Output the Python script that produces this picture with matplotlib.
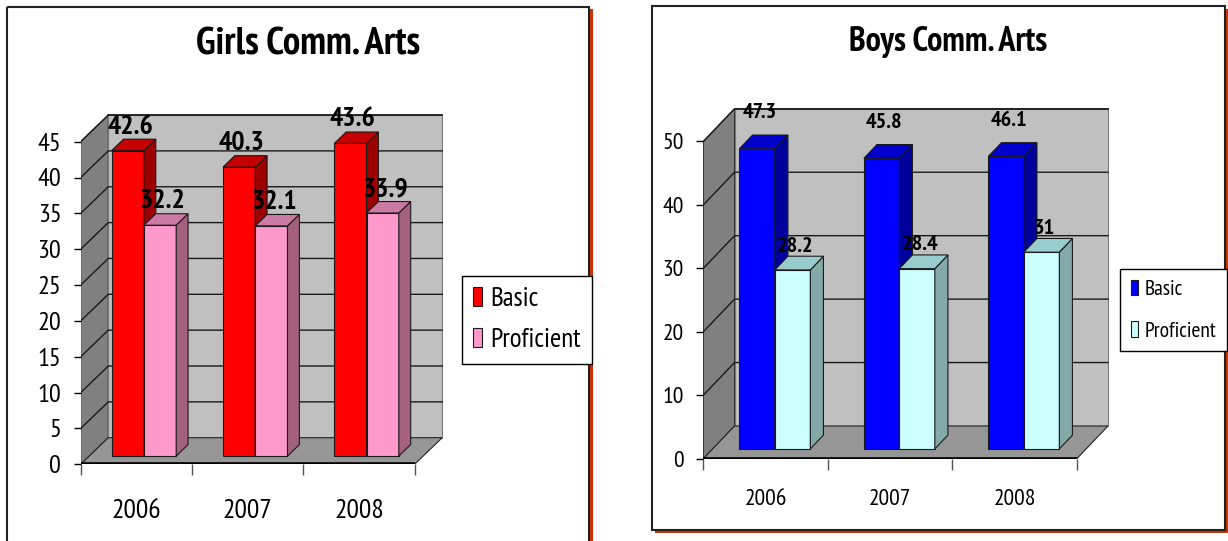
import matplotlib.pyplot as plt
from matplotlib.patches import Polygon, Rectangle
import numpy as np

W, H = 1228, 541

years = ["2006", "2007", "2008"]
series = ["Basic", "Proficient"]
girls_basic = [42.6, 40.3, 43.6]
girls_proficient = [32.2, 32.1, 33.9]
boys_basic = [47.3, 45.8, 46.1]
boys_proficient = [28.2, 28.4, 31]

plt.rcParams['font.family'] = ['PT Sans Narrow', 'Liberation Sans', 'DejaVu Sans']

# pixel layout of each 3-D plot area and look of each chart
girls_cfg = dict(
    title="Girls Comm. Arts", title_xy=(308, 45), title_size=28,
    x0=80.7, y0=464.3, px_cat=111.3, px_unit=7.17, ymax=45, step=5,
    depth=(0.248, 3.71), bar_start=0.278, bar_w=0.29, depth_at=0.31, bar_depth=0.43,
    colors=[("#FF0000", "#C40000", "#9C0000"), ("#FF99CC", "#CC7AA3", "#A3617F")],
    tick_size=19, year_size=20, year_pad=25, label_size=20, label_off=(1.75, 1.75),
    legend_box=(461.5, 276), legend_size=19.5, legend_spacing=0.62, legend_pad=0.42,
)
boys_cfg = dict(
    title="Boys Comm. Arts", title_xy=(948, 42), title_size=24.5,
    x0=703.4, y0=458.6, px_cat=124.5, px_unit=6.344, ymax=50, step=10,
    depth=(0.25, 5.14), bar_start=0.289, bar_w=0.285, depth_at=0.3, bar_depth=0.42,
    colors=[("#0000FF", "#0000CC", "#00009C"), ("#CCFFFF", "#99CCCC", "#84A9A9")],
    tick_size=17, year_size=17, year_pad=22, label_size=16, label_off=(3.5, 1.6),
    legend_box=(1120, 269), legend_size=15.5, legend_spacing=1.05, legend_pad=0.5,
)


def draw_chart(fig, cfg, basic, proficient):
    ddx, ddy = cfg["depth"]
    top = cfg["ymax"] + ddy + 0.4
    xmax = 3 + ddx + 0.01
    ax = fig.add_axes([cfg["x0"] / W, 1 - cfg["y0"] / H,
                       xmax * cfg["px_cat"] / W, top * cfg["px_unit"] / H])
    ax.set_xlim(0, xmax)
    ax.set_ylim(0, top)
    ax.patch.set_visible(False)
    for s in ax.spines.values():
        s.set_visible(False)

    ymax = cfg["ymax"]
    # walls and floor
    ax.add_patch(Polygon([(0, 0), (ddx, ddy), (ddx, ymax + ddy), (0, ymax)],
                         facecolor="#808080", edgecolor="#333333", lw=0.8, zorder=1))
    ax.add_patch(Polygon([(ddx, ddy), (3 + ddx, ddy), (3 + ddx, ymax + ddy), (ddx, ymax + ddy)],
                         facecolor="#C0C0C0", edgecolor="#777777", lw=0.8, zorder=1))
    ax.add_patch(Polygon([(0, 0), (3, 0), (3 + ddx, ddy), (ddx, ddy)],
                         facecolor="#969696", edgecolor="#222222", lw=0.8, zorder=1))
    ax.plot([ddx, 3 + ddx], [ymax + ddy] * 2, color="#333333", lw=1.2, zorder=2)

    ticks = np.arange(0, ymax + 0.1, cfg["step"])
    for v in ticks[1:]:
        ax.plot([0, ddx, 3 + ddx], [v, v + ddy, v + ddy], color="#1a1a1a", lw=1.0, zorder=2)
    ax.plot([0, 3], [0, 0], color="black", lw=2.6, zorder=6, solid_capstyle="butt")

    # 3-D bars: front via ax.bar, side and top faces as polygons
    fx, fy = cfg["depth_at"] * ddx, cfg["depth_at"] * ddy
    bx, by = cfg["bar_depth"] * ddx, cfg["bar_depth"] * ddy
    x = np.arange(3)
    for k, vals in enumerate([basic, proficient]):
        front, topc, side = cfg["colors"][k]
        left = x + cfg["bar_start"] + k * cfg["bar_w"]
        vals = np.asarray(vals, dtype=float)
        ax.bar(left, vals, width=cfg["bar_w"], bottom=fy, align="edge",
               color=front, edgecolor="#1a1a1a", lw=0.8, zorder=3 + k,
               label=series[k])
        for l, v in zip(left, vals):
            r = l + cfg["bar_w"]
            t = fy + v
            ax.add_patch(Polygon([(r, fy), (r + bx, fy + by), (r + bx, t + by), (r, t)],
                                 facecolor=side, edgecolor="#1a1a1a", lw=0.8, zorder=3 + k))
            ax.add_patch(Polygon([(l, t), (r, t), (r + bx, t + by), (l + bx, t + by)],
                                 facecolor=topc, edgecolor="#1a1a1a", lw=0.8, zorder=3 + k))
            ax.text(l + cfg["bar_w"] / 2 + 0.02, t + by + cfg["label_off"][k], f"{v:g}",
                    ha="center", va="center", fontsize=cfg["label_size"],
                    fontweight="bold", zorder=8)

    ax.set_yticks(ticks)
    ax.set_yticklabels([f"{int(v)}" for v in ticks])
    ax.tick_params(axis="y", direction="out", length=5, width=1, pad=9,
                   labelsize=cfg["tick_size"], color="black")
    ax.set_xticks([0, 1, 2, 3])
    ax.set_xticklabels([])
    ax.set_xticks([0.5, 1.5, 2.5], minor=True)
    ax.set_xticklabels(years, minor=True)
    ax.tick_params(axis="x", which="major", direction="out", length=8, width=1, color="#555555")
    ax.tick_params(axis="x", which="minor", length=0, pad=cfg["year_pad"],
                   labelsize=cfg["year_size"])

    lx, ly = cfg["legend_box"]
    leg = ax.legend(loc="upper left", bbox_to_anchor=(lx / W, 1 - ly / H),
                    bbox_transform=fig.transFigure, borderaxespad=0,
                    fontsize=cfg["legend_size"], fancybox=False, framealpha=1,
                    edgecolor="black", handlelength=0.33, handleheight=0.7,
                    handletextpad=0.3, labelspacing=cfg["legend_spacing"],
                    borderpad=cfg["legend_pad"])
    leg.get_frame().set_linewidth(1.0)

    fig.text(cfg["title_xy"][0] / W, 1 - cfg["title_xy"][1] / H, cfg["title"],
             ha="center", va="center", fontsize=cfg["title_size"], fontweight="bold")
    return ax


fig = plt.figure(figsize=(W / 100, H / 100), dpi=100)
fig.patch.set_facecolor("white")

# frames around the two charts, with the orange drop shadow
bg = fig.add_axes([0, 0, 1, 1])
bg.set_xlim(0, W)
bg.set_ylim(H, 0)
bg.axis("off")
bg.add_patch(Rectangle((589.5, 9), 3.5, 540, facecolor="#CC3300", edgecolor="none"))
bg.add_patch(Rectangle((7, 6.5), 582, 600, fill=False, edgecolor="#222222", lw=1.5))
bg.add_patch(Rectangle((1225.5, 9), 2.5, 524, facecolor="#CC3300", edgecolor="none"))
bg.add_patch(Rectangle((655, 530.5), 573, 2.5, facecolor="#CC3300", edgecolor="none"))
bg.add_patch(Rectangle((652, 5.5), 573, 524.5, fill=False, edgecolor="#222222", lw=1.5))

draw_chart(fig, girls_cfg, girls_basic, girls_proficient)
draw_chart(fig, boys_cfg, boys_basic, boys_proficient)

fig.savefig("out.png", dpi=100)
